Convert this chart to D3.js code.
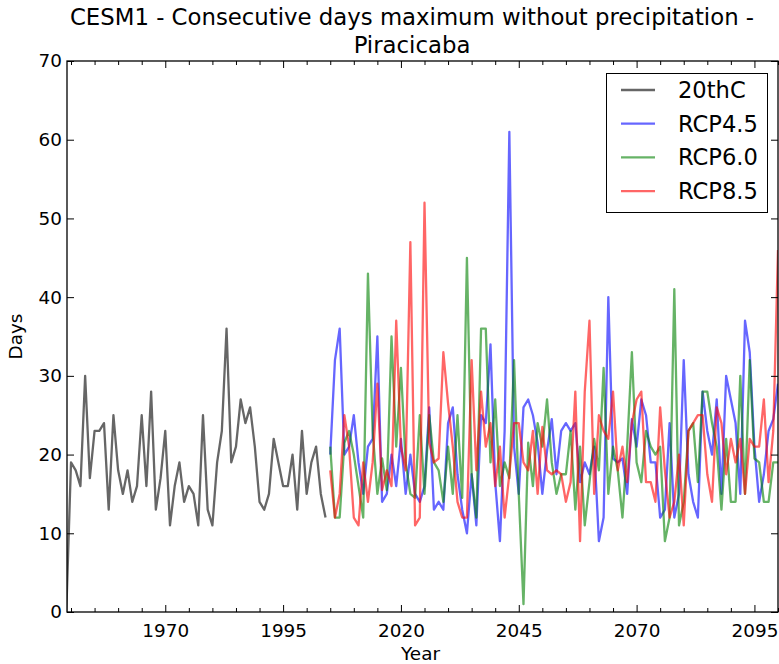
<!DOCTYPE html>
<html lang="en">
<head>
<meta charset="UTF-8">
<title>CESM1 - Consecutive days maximum without precipitation - Piracicaba</title>
<script src="https://d3js.org/d3.v7.min.js"></script>
<style>
  body { margin: 0; background: #fff; }
  text { font-family: "DejaVu Sans", sans-serif; fill: #000; }
</style>
</head>
<body>
<svg id="chart" width="779" height="664"></svg>
<script>
// years
var years20 = d3.range(1949, 2005);
var yearsRcp = d3.range(2005, 2101);

// series values (days)
var hist20 = [0,19,18,16,30,17,23,23,24,13,
  25,18,15,18,14,16,25,16,28,13,
  17,23,11,16,19,14,16,15,11,25,
  13,11,19,23,36,19,21,27,24,26,
  21,14,13,15,22,19,16,16,20,13,
  23,15,19,21,15,12];

var rcp45 = [20,32,36,20,21,25,19,15,21,22,
  35,14,15,20,16,22,15,20,15,14,
  16,26,13,14,13,24,26,17.5,13,10,
  17.5,11,25,24,34,16.5,9,23,61,21,
  15,26,27,25,21.5,15,20.5,24.5,17.5,23,
  24,23,24,16.5,19,17.5,21,9,12,40,
  19.5,19,19.5,15,24.5,21,27,25,19,19,
  12,13,24,12,15,32,17.5,14,12,28,
  23,20,27,15,30,27,24,15,37,33,
  21,14,17.5,23,24.5,29];

var rcp60 = [21,12,12,21.5,23,20,16,12,43,23,
  15,19.5,15.5,35,21,31,19,15,14.5,25,
  15,25,19,18,14,21,15,25,14.5,45,
  17.5,12,36,36,19,27,16,19,17,32,
  15,1,21.5,16,24,21,27,19,15,17.5,
  17.5,23,13,21,11,16.5,22,18,31,15,
  21,18,12,21,33,19,16.5,23,21,20,
  21,9,12,41,11,14,23,24,16.5,28,
  28,24,21,13,22,14,14,30,15,32,
  19.5,19,14,14,19,19];

var rcp85 = [18,12,15,25,21,12,11,19,14,19,
  29,15.5,18,16,37,21,18,47,11,12,
  52,21.5,19,19.5,33,26.5,21,14,12,12,
  32,18,28,21,24,16,21,12,17.5,24,
  24,19,18,23,15,23.5,18,17.5,18,17.5,
  14,16.5,28,9,28,37,15,25,23,22,
  28,18,21,16.5,24,27,28,16.5,16.5,14,
  26,18,12,14,20,11,23,24,25,25,
  17.5,14,26,24,17.5,22,19,22,15,22,
  21,21,27,16.5,23,46];

var seriesNames = ["20thC", "RCP4.5", "RCP6.0", "RCP8.5"];
var seriesColors = ["#000000", "#0000ff", "#008000", "#ff0000"];

var xMajorTicks = [1970, 1995, 2020, 2045, 2070, 2095];
var xMinorTicks = d3.range(1950, 2101, 5).filter(function(y) { return xMajorTicks.indexOf(y) < 0; });
var yTicks = [0, 10, 20, 30, 40, 50, 60, 70];

var svg = d3.select("#chart");
var plotLeft = 67, plotRight = 778, plotTop = 61, plotBottom = 612;

var x = d3.scaleLinear().domain([1949.15, 2100]).range([plotLeft, plotRight]);
var y = d3.scaleLinear().domain([0, 70]).range([plotBottom, plotTop]);

// title
svg.append("text").attr("x", 412).attr("y", 25).attr("text-anchor", "middle")
  .style("font-size", "22.8px").text("CESM1 - Consecutive days maximum without precipitation -");
svg.append("text").attr("x", 412).attr("y", 53).attr("text-anchor", "middle")
  .style("font-size", "22.8px").text("Piracicaba");

svg.append("defs").append("clipPath").attr("id", "plotClip")
  .append("rect").attr("x", plotLeft).attr("y", plotTop)
  .attr("width", plotRight - plotLeft).attr("height", plotBottom - plotTop);

// lines
var line = d3.line()
  .x(function(d) { return x(d[0]); })
  .y(function(d) { return y(d[1]); });

var allSeries = [
  d3.zip(years20, hist20),
  d3.zip(yearsRcp, rcp45),
  d3.zip(yearsRcp, rcp60),
  d3.zip(yearsRcp, rcp85)
];

var plot = svg.append("g").attr("clip-path", "url(#plotClip)");
plot.selectAll("path.series")
  .data(allSeries)
  .enter().append("path")
  .attr("class", "series")
  .attr("d", line)
  .attr("fill", "none")
  .attr("stroke", function(d, i) { return seriesColors[i]; })
  .attr("stroke-opacity", 0.6)
  .attr("stroke-width", 2.3)
  .attr("stroke-linejoin", "round");

// axes, ticks pointing inwards
var bottomAxis = d3.axisBottom(x).tickValues(xMajorTicks).tickFormat(d3.format("d"))
  .tickSizeInner(-7).tickSizeOuter(0).tickPadding(12);
var bottomMinor = d3.axisBottom(x).tickValues(xMinorTicks).tickFormat("")
  .tickSizeInner(-4).tickSizeOuter(0);
var topAxis = d3.axisTop(x).tickValues(xMajorTicks).tickFormat("")
  .tickSizeInner(-7).tickSizeOuter(0);
var topMinor = d3.axisTop(x).tickValues(xMinorTicks).tickFormat("")
  .tickSizeInner(-4).tickSizeOuter(0);
var leftAxis = d3.axisLeft(y).tickValues(yTicks).tickFormat(d3.format("d"))
  .tickSizeInner(-7).tickSizeOuter(0).tickPadding(5);
var rightAxis = d3.axisRight(y).tickValues(yTicks).tickFormat("")
  .tickSizeInner(-7).tickSizeOuter(0);

function drawAxis(axis, tx, ty) {
  var g = svg.append("g").attr("transform", "translate(" + tx + "," + ty + ")").call(axis);
  g.select(".domain").remove();
  g.selectAll(".tick line").attr("stroke", "#000").attr("stroke-width", 1);
  g.selectAll(".tick text").attr("fill", "#000")
    .style("font-family", "DejaVu Sans, sans-serif").style("font-size", "18.4px");
  return g;
}
drawAxis(bottomAxis, 0, plotBottom);
drawAxis(bottomMinor, 0, plotBottom);
drawAxis(topAxis, 0, plotTop);
drawAxis(topMinor, 0, plotTop);
drawAxis(leftAxis, plotLeft, 0);
drawAxis(rightAxis, plotRight, 0);

// frame
svg.append("rect").attr("x", plotLeft).attr("y", plotTop)
  .attr("width", plotRight - plotLeft).attr("height", plotBottom - plotTop)
  .attr("fill", "none").attr("stroke", "#000").attr("stroke-width", 1.3);

// axis labels
svg.append("text").attr("x", (plotLeft + plotRight) / 2 - 2).attr("y", 660)
  .attr("text-anchor", "middle").style("font-size", "18.4px").text("Year");
svg.append("text").attr("transform", "translate(21.5," + ((plotTop + plotBottom) / 2) + ") rotate(-90)")
  .attr("text-anchor", "middle").style("font-size", "18.4px").text("Days");

// legend
var legend = svg.append("g");
legend.append("rect").attr("x", 606.5).attr("y", 73.5).attr("width", 161).attr("height", 139)
  .attr("fill", "#fff").attr("stroke", "#000").attr("stroke-width", 1);
var items = legend.selectAll("g.item").data(seriesNames).enter().append("g")
  .attr("class", "item")
  .attr("transform", function(d, i) { return "translate(0," + (90 + i * 33.7) + ")"; });
items.append("line").attr("x1", 621).attr("x2", 655).attr("y1", 0).attr("y2", 0)
  .attr("stroke", function(d, i) { return seriesColors[i]; })
  .attr("stroke-opacity", 0.6).attr("stroke-width", 2.3);
items.append("text").attr("x", 678).attr("y", 8).style("font-size", "22.6px")
  .text(function(d) { return d; });
</script>
</body>
</html>
